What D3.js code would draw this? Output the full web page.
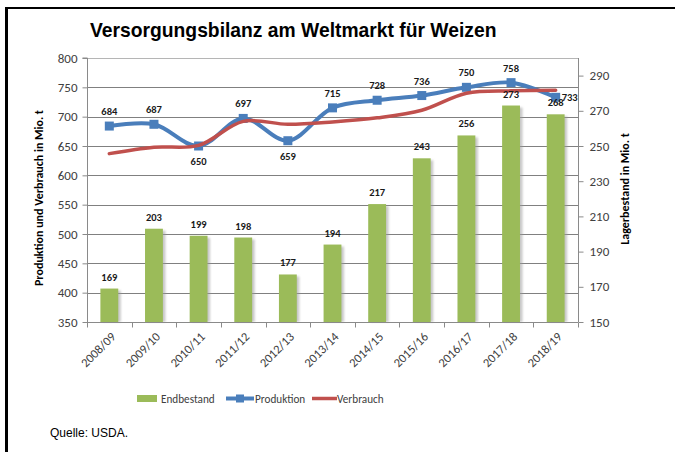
<!DOCTYPE html>
<html><head><meta charset="utf-8">
<script src="https://cdn.jsdelivr.net/npm/d3@7"></script>
<style>
html,body{margin:0;padding:0;background:#fff;}
svg{display:block;}
</style></head>
<body>
<svg id="chart" width="675" height="452"></svg>
<script>
const categories = ["2008/09","2009/10","2010/11","2011/12","2012/13","2013/14","2014/15","2015/16","2016/17","2017/18","2018/19"];
const endbestand = [169,203,199,198,177,194,217,243,256,273,268];
const produktion = [684,687,650,697,659,715,728,736,750,758,733];
const verbrauch  = [637,648,651,692,687,691,698,711,740,744,745];
const leftTicks  = [350,400,450,500,550,600,650,700,750,800];
const rightTicks = [150,170,190,210,230,250,270,290];
const prodLabelPos = ["above","above","below","above","below","above","above","above","above","above","right"];

const title = "Versorgungsbilanz am Weltmarkt für Weizen";
const leftTitle = "Produktion und Verbrauch in Mio. t";
const rightTitle = "Lagerbestand in Mio. t";
const source = "Quelle: USDA.";
const legendNames = ["Endbestand","Produktion","Verbrauch"];

const C_GREEN = "#9bbb59", C_BLUE = "#4a7ebb", C_RED = "#c0504d";
const FONT = "Carlito, Lato, 'Open Sans', sans-serif";

const svg = d3.select("#chart");
const L = 87, R = 578, T = 58, B = 322;

const x = d3.scaleBand().domain(categories).range([L, R]).paddingInner(0.6).paddingOuter(0.3);
const yL = d3.scaleLinear().domain([350, 800]).range([B, T]);
const yR = d3.scaleLinear().domain([150, 300]).range([B, T]);
const cx = c => x(c) + x.bandwidth() / 2;

// frame
svg.append("line").attr("x1", 5).attr("x2", 675).attr("y1", 8).attr("y2", 8).attr("stroke", "#000").attr("stroke-width", 2);
svg.append("line").attr("x1", 6.5).attr("x2", 6.5).attr("y1", 7).attr("y2", 452).attr("stroke", "#000").attr("stroke-width", 3);

// title
svg.append("text").attr("x", 90).attr("y", 37).attr("font-family", "'Liberation Sans', Arial, sans-serif")
  .attr("font-weight", "bold").attr("font-size", 19.3).attr("fill", "#000").text(title);

// defs
const defs = svg.append("defs");
const f = defs.append("filter").attr("id", "sh").attr("x", "-50%").attr("y", "-10%").attr("width", "200%").attr("height", "130%");
f.append("feGaussianBlur").attr("stdDeviation", 1.3);

// gridlines
svg.append("g").selectAll("line").data(leftTicks.slice(1, -1)).join("line")
  .attr("x1", L).attr("x2", R).attr("y1", d => Math.round(yL(d)) + 0.5).attr("y2", d => Math.round(yL(d)) + 0.5)
  .attr("stroke", "#808080").attr("stroke-width", 1.2);
// plot border top
svg.append("line").attr("x1", L).attr("x2", R).attr("y1", T + 0.5).attr("y2", T + 0.5).attr("stroke", "#b5b5b5");

// left axis
const gL = svg.append("g").attr("transform", `translate(${L + 0.5},0)`)
  .call(d3.axisLeft(yL).tickValues(leftTicks).tickSize(5).tickPadding(5));
gL.select(".domain").attr("stroke", "#8a8a8a").attr("d", `M-5,${T}H0V${B}`);
gL.selectAll(".tick line").attr("stroke", "#8a8a8a");
gL.selectAll(".tick text").attr("font-family", FONT).attr("font-size", 13).attr("fill", "#404040");

// right axis
const gR = svg.append("g").attr("transform", `translate(${R + 0.5},0)`)
  .call(d3.axisRight(yR).tickValues(rightTicks).tickSize(5).tickPadding(6));
gR.select(".domain").attr("stroke", "#8a8a8a").attr("d", `M0,${T}V${B}`);
gR.selectAll(".tick line").attr("stroke", "#8a8a8a");
gR.selectAll(".tick text").attr("font-family", FONT).attr("font-size", 13).attr("fill", "#404040");

// bars shadow + bars
const bars = svg.append("g");
bars.selectAll("rect.sh").data(categories).join("rect").attr("class", "sh")
  .attr("x", d => x(d) + 2.5).attr("y", (d, i) => yR(endbestand[i]) + 2)
  .attr("width", x.bandwidth()).attr("height", (d, i) => B - yR(endbestand[i]) - 2)
  .attr("fill", "#9a9a9a").attr("opacity", 0.55).attr("filter", "url(#sh)");
bars.selectAll("rect.bar").data(categories).join("rect").attr("class", "bar")
  .attr("x", d => x(d)).attr("y", (d, i) => yR(endbestand[i]))
  .attr("width", x.bandwidth()).attr("height", (d, i) => B - yR(endbestand[i]))
  .attr("fill", C_GREEN);

// bottom axis
const gB = svg.append("g").attr("transform", `translate(0,${B + 0.5})`);
gB.append("line").attr("x1", L).attr("x2", R).attr("stroke", "#8a8a8a");
const bounds = d3.range(categories.length + 1).map(i => L + i * x.step());
gB.selectAll("line.t").data(bounds).join("line").attr("class", "t")
  .attr("x1", d => Math.round(d) + 0.5).attr("x2", d => Math.round(d) + 0.5).attr("y1", 0).attr("y2", 5)
  .attr("stroke", "#8a8a8a");
gB.selectAll("text").data(categories).join("text")
  .attr("transform", d => `translate(${cx(d) + 4},${12}) rotate(-45)`)
  .attr("text-anchor", "end").attr("dy", "0.35em")
  .attr("font-family", FONT).attr("font-size", 12.5).attr("fill", "#404040").text(d => d);

// lines
const curve = d3.curveCatmullRom.alpha(0.5);
const lineP = d3.line().x((d, i) => cx(categories[i])).y(d => yL(d)).curve(curve);
svg.append("path").attr("d", lineP(produktion)).attr("fill", "none").attr("stroke", C_BLUE).attr("stroke-width", 4).attr("stroke-linejoin", "round");
svg.append("g").selectAll("rect").data(produktion).join("rect")
  .attr("x", (d, i) => cx(categories[i]) - 4.5).attr("y", d => yL(d) - 4.5)
  .attr("width", 9).attr("height", 9).attr("fill", C_BLUE);
svg.append("path").attr("d", lineP(verbrauch)).attr("fill", "none").attr("stroke", C_RED).attr("stroke-width", 3.5).attr("stroke-linecap", "round");

// data labels
const lab = svg.append("g").attr("font-family", FONT).attr("font-weight", "bold").attr("font-size", 10.5).attr("fill", "#1a1a1a");
lab.selectAll("text.b").data(endbestand).join("text").attr("class", "b")
  .attr("x", (d, i) => cx(categories[i])).attr("y", d => yR(d) - 8)
  .attr("text-anchor", "middle").text(d => d);
lab.selectAll("text.p").data(produktion).join("text").attr("class", "p")
  .attr("x", (d, i) => prodLabelPos[i] === "right" ? cx(categories[i]) + 6 : cx(categories[i]))
  .attr("y", (d, i) => prodLabelPos[i] === "above" ? yL(d) - 11 : prodLabelPos[i] === "below" ? yL(d) + 19 : yL(d) + 4)
  .attr("text-anchor", (d, i) => prodLabelPos[i] === "right" ? "start" : "middle").text(d => d);

// axis titles
svg.append("text").attr("transform", `translate(43,${(T + B) / 2 + 8}) rotate(-90)`).attr("text-anchor", "middle")
  .attr("font-family", FONT).attr("font-weight", "bold").attr("font-size", 12).attr("fill", "#000").text(leftTitle);
svg.append("text").attr("transform", `translate(629,${189}) rotate(-90)`).attr("text-anchor", "middle")
  .attr("font-family", FONT).attr("font-weight", "bold").attr("font-size", 12).attr("fill", "#000").text(rightTitle);

// legend
const lg = svg.append("g").attr("font-family", FONT).attr("font-size", 11.2).attr("fill", "#404040");
lg.append("rect").attr("x", 137).attr("y", 395).attr("width", 20).attr("height", 7).attr("fill", C_GREEN);
lg.append("text").attr("x", 161).attr("y", 403).text(legendNames[0]);
lg.append("line").attr("x1", 226).attr("x2", 254).attr("y1", 398.5).attr("y2", 398.5).attr("stroke", C_BLUE).attr("stroke-width", 4);
lg.append("rect").attr("x", 236).attr("y", 394.5).attr("width", 8).attr("height", 8).attr("fill", C_BLUE);
lg.append("text").attr("x", 255).attr("y", 403).text(legendNames[1]);
lg.append("line").attr("x1", 312).attr("x2", 337).attr("y1", 398.5).attr("y2", 398.5).attr("stroke", C_RED).attr("stroke-width", 3.5);
lg.append("text").attr("x", 337).attr("y", 403).text(legendNames[2]);

// source
svg.append("text").attr("x", 50).attr("y", 437).attr("font-family", "'Liberation Sans', Arial, sans-serif")
  .attr("font-size", 12).attr("fill", "#000").text(source);
</script>
</body></html>
